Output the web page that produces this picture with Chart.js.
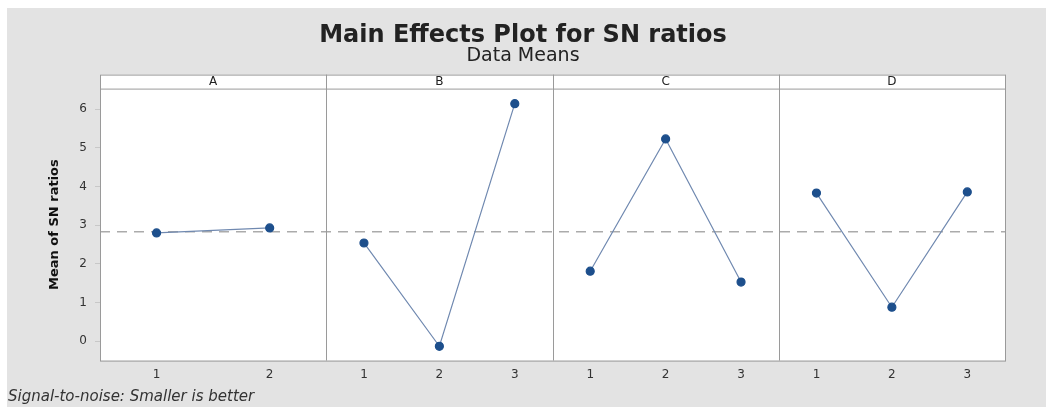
<!DOCTYPE html>
<html lang="en">
<head>
  <meta charset="utf-8" />
  <title>Main Effects Plot for SN ratios</title>
  <script src="https://cdn.jsdelivr.net/npm/chart.js@4.4.1/dist/chart.umd.min.js"></script>
  <style>
    html, body { margin: 0; padding: 0; background: #fff; }
    #wrap { width: 1046px; height: 407px; position: relative; }
  </style>
</head>
<body>
  <div id="wrap"><canvas id="myChart" width="1046" height="407"></canvas></div>
  <script>
    // factors (panels) and their levels
    const factors = ['A', 'B', 'C', 'D'];
    const levelsA = ['1', '2'];
    const levelsB = ['1', '2', '3'];
    const levelsC = ['1', '2', '3'];
    const levelsD = ['1', '2', '3'];
    // mean SN ratio per level
    const snA = [2.80, 2.93];
    const snB = [2.54, -0.13, 6.14];
    const snC = [1.81, 5.23, 1.53];
    const snD = [3.83, 0.88, 3.86];
    const overallMean = 2.83;
    const yTicks = [0, 1, 2, 3, 4, 5, 6];

    const levels = [levelsA, levelsB, levelsC, levelsD];
    const values = [snA, snB, snC, snD];

    // each panel is one unit wide on a shared linear x scale
    const tickList = [];
    const datasets = values.map(function (vals, p) {
      const n = vals.length;
      return {
        type: 'line',
        data: vals.map(function (v, i) {
          const x = p + (i + 0.5) / n;
          tickList.push({ value: x, label: levels[p][i] });
          return { x: x, y: v };
        }),
        borderColor: '#7089b0',
        borderWidth: 1.2,
        pointBackgroundColor: '#1d4f8c',
        pointBorderColor: '#1d4f8c',
        pointRadius: 4,
        tension: 0
      };
    });
    datasets.push({
      type: 'line',
      data: [{ x: 0, y: overallMean }, { x: factors.length, y: overallMean }],
      borderColor: '#ababab',
      borderWidth: 1.5,
      borderDash: [10, 7],
      pointRadius: 0
    });

    const panelPlugin = {
      id: 'panels',
      beforeDraw(chart) {
        const c = chart.ctx;
        const a = chart.chartArea;
        c.save();
        c.fillStyle = '#ffffff';
        c.fillRect(0, 0, chart.width, chart.height);
        c.fillStyle = '#e3e3e3';
        c.fillRect(7, 8, chart.width - 7, chart.height - 8);
        c.fillStyle = '#ffffff';
        c.fillRect(a.left, a.top - 14, a.right - a.left, a.bottom - a.top + 14);
        c.restore();
      },
      afterDraw(chart) {
        const c = chart.ctx;
        const a = chart.chartArea;
        const xs = chart.scales.x;
        const stripTop = a.top - 14;
        c.save();
        c.strokeStyle = '#9a9a9a';
        c.lineWidth = 1;
        c.strokeRect(a.left + 0.5, stripTop + 0.5, a.right - a.left, a.bottom - stripTop);
        c.beginPath();
        c.moveTo(a.left, a.top + 0.5);
        c.lineTo(a.right, a.top + 0.5);
        for (let p = 1; p < factors.length; p++) {
          const px = Math.round(xs.getPixelForValue(p)) + 0.5;
          c.moveTo(px, stripTop);
          c.lineTo(px, a.bottom);
        }
        c.stroke();
        c.fillStyle = '#222';
        c.font = '12px "DejaVu Sans", sans-serif';
        c.textAlign = 'center';
        c.textBaseline = 'middle';
        factors.forEach(function (f, p) {
          c.fillText(f, xs.getPixelForValue(p + 0.5), stripTop + 7);
        });
        c.textAlign = 'left';
        c.fillStyle = '#333';
        c.font = 'italic 15px "DejaVu Sans", sans-serif';
        c.fillText('Signal-to-noise: Smaller is better', 8, 397);
        c.restore();
      }
    };

    const ctx = document.getElementById('myChart').getContext('2d');
    const myChart = new Chart(ctx, {
      type: 'line',
      data: { datasets: datasets },
      plugins: [panelPlugin],
      options: {
        responsive: false,
        animation: false,
        layout: { padding: { top: 8, right: 0, bottom: 18, left: 0 } },
        plugins: {
          legend: { display: false },
          tooltip: { enabled: false },
          title: {
            display: true,
            text: 'Main Effects Plot for SN ratios',
            color: '#222',
            font: { family: '"DejaVu Sans", sans-serif', size: 24, weight: 'bold', lineHeight: 0.9 },
            padding: { top: 17, bottom: 0 }
          },
          subtitle: {
            display: true,
            text: 'Data Means',
            color: '#222',
            font: { family: '"DejaVu Sans", sans-serif', size: 19, lineHeight: 1.0 },
            padding: { top: 0, bottom: 23 }
          }
        },
        scales: {
          x: {
            type: 'linear',
            min: 0,
            max: factors.length,
            grid: { display: false, drawTicks: false },
            border: { display: false },
            afterBuildTicks(scale) {
              scale.ticks = tickList.map(function (t) { return { value: t.value }; });
            },
            ticks: {
              autoSkip: false,
              maxRotation: 0,
              padding: 7,
              color: '#333',
              font: { family: '"DejaVu Sans", sans-serif', size: 12 },
              callback: function (value, index) { return tickList[index].label; }
            }
          },
          y: {
            min: -0.5,
            max: 6.53,
            afterBuildTicks(scale) {
              scale.ticks = yTicks.map(function (v) { return { value: v }; });
            },
            afterFit(scale) { scale.width = 100; },
            grid: { drawOnChartArea: false, drawTicks: true, tickLength: 5, color: '#c8c8c8' },
            border: { display: false },
            ticks: {
              padding: 8,
              color: '#333',
              font: { family: '"DejaVu Sans", sans-serif', size: 12 }
            },
            title: {
              display: true,
              text: 'Mean of SN ratios',
              color: '#111',
              font: { family: '"DejaVu Sans", sans-serif', size: 13, weight: 'bold' },
              padding: { top: 47, bottom: 0 }
            }
          },
          // empty right-hand axis keeps the margin on the right of the panels
          yRight: {
            position: 'right',
            display: true,
            afterFit(scale) { scale.width = 41; },
            grid: { display: false, drawTicks: false },
            border: { display: false },
            ticks: { display: false }
          }
        }
      }
    });
  </script>
</body>
</html>
